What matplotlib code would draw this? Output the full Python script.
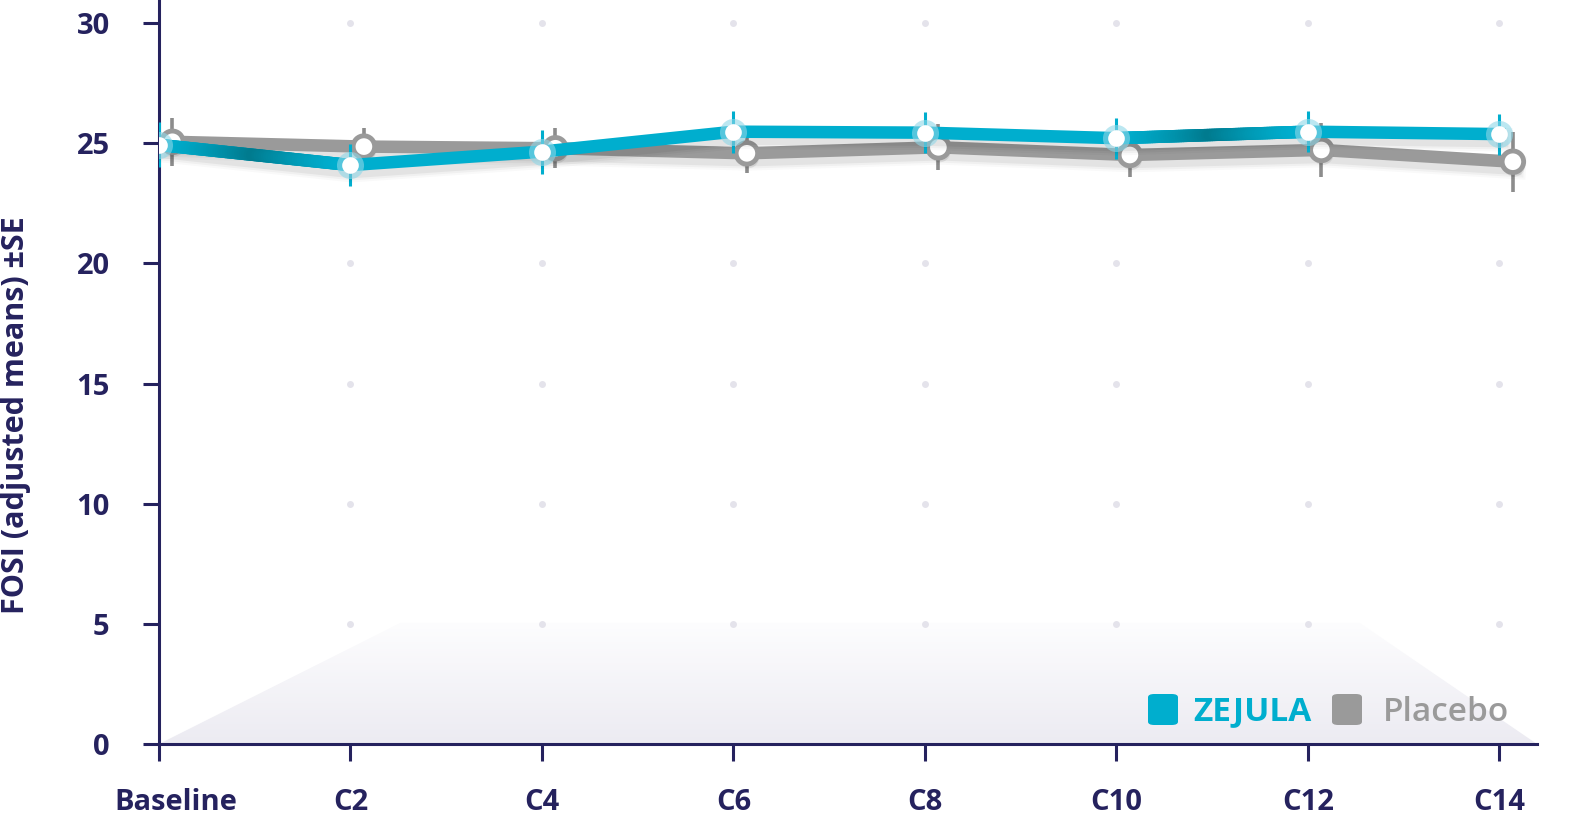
import numpy as np
import matplotlib
matplotlib.use('Agg')
from matplotlib import pyplot as plt
from matplotlib.collections import LineCollection
from matplotlib.patches import Polygon, FancyBboxPatch
from matplotlib.colors import LinearSegmentedColormap, to_rgb
from matplotlib.transforms import ScaledTranslation
import matplotlib.patheffects as pe

# datos
ciclos = ['Baseline', 'C2', 'C4', 'C6', 'C8', 'C10', 'C12', 'C14']
zejula = [24.93, 24.09, 24.65, 25.48, 25.44, 25.21, 25.48, 25.38]
zejula_se = [0.94, 0.87, 0.92, 0.87, 0.85, 0.85, 0.85, 0.85]
placebo = [25.06, 24.86, 24.79, 24.58, 24.83, 24.51, 24.72, 24.23]
placebo_se = [1.00, 0.78, 0.83, 0.83, 0.96, 0.92, 1.12, 1.25]
yticks = [0, 5, 10, 15, 20, 25, 30]

NAVY = '#25225E'
CYAN = '#00AECE'
CYAN_DARK = '#007A8E'
GRIS = '#9A9A9A'

plt.rcParams['font.family'] = ['Open Sans', 'DejaVu Sans']

W, H = 1584, 821
fig = plt.figure(figsize=(W / 100, H / 100), dpi=100)
ax = fig.add_axes([159 / W, 77 / H, 1378 / W, 744 / H])
x = np.arange(len(ciclos))
ax.set_xlim(0, 7.196)
ax.set_ylim(0, 30.96)

# fondo degradado (trapecio)
trap = Polygon([(0, 0), (1.26, 5.04), (6.27, 5.04), (7.196, 0)], closed=True,
               facecolor='none', edgecolor='none', transform=ax.transData)
ax.add_patch(trap)
grad = np.linspace(0, 1, 256).reshape(-1, 1)
cmap_fondo = LinearSegmentedColormap.from_list('fondo', ['#ECEBF2', '#FDFDFE'])
im = ax.imshow(grad, extent=[0, 7.196, 0, 5.04], origin='lower', cmap=cmap_fondo,
               aspect='auto', zorder=0)
im.set_clip_path(trap)

# rejilla de puntos
for xi in x[1:]:
    for yi in yticks[1:]:
        ax.plot(xi, yi, 'o', color='#E4E3EB', ms=5, mec='none', zorder=1)

dx = 0.07  # desplazamiento de placebo


def sombra():
    efs = []
    for lw, a in [(17, 0.025), (14, 0.035), (11, 0.05)]:
        efs.append(pe.Stroke(linewidth=lw, foreground='black', alpha=a, offset=(1, -4)))
    efs.append(pe.Normal())
    return efs


def linea_degradado(xs, ys, oscuros, zo):
    segs = []
    cols = []
    c1 = np.array(to_rgb(CYAN))
    c2 = np.array(to_rgb(CYAN_DARK))
    for i in range(len(xs) - 1):
        if i not in oscuros:
            continue
        n = 80
        t = np.linspace(0, 1, n + 1)
        px = xs[i] + (xs[i + 1] - xs[i]) * t
        py = ys[i] + (ys[i + 1] - ys[i]) * t
        for k in range(n):
            segs.append([(px[k], py[k]), (px[k + 1], py[k + 1])])
            tm = (t[k] + t[k + 1]) / 2
            w = max(0, 1 - abs(tm - 0.5) / 0.45) ** 1.3
            cols.append(c1 * (1 - w) + c2 * w)
    lc = LineCollection(segs, colors=cols, linewidths=9, capstyle='round', zorder=zo)
    ax.add_collection(lc)


# placebo
xp = x + dx
ax.errorbar(xp, placebo, yerr=placebo_se, fmt='none', ecolor='#8C8C8C', elinewidth=2.6,
            capsize=0, zorder=3)
ax.plot(xp, placebo, color=GRIS, lw=9, solid_joinstyle='round', zorder=4, path_effects=sombra())
ax.plot(xp, placebo, 'o', ms=15.5, mfc='white', mec=GRIS, mew=3.5, zorder=5,
        path_effects=[pe.SimplePatchShadow(offset=(1, -3), alpha=0.12), pe.Normal()])

# zejula
ax.errorbar(x, zejula, yerr=zejula_se, fmt='none', ecolor=CYAN, elinewidth=2.2,
            capsize=0, zorder=6)
ax.plot(x, zejula, color=CYAN, lw=9, solid_joinstyle='round', zorder=6, path_effects=sombra())
linea_degradado(x, zejula, [0, 5], 7)
ax.plot(x, zejula, 'o', ms=19.5, mfc='#8ED7E8', mec='none', alpha=0.6, zorder=8)
ax.plot(x, zejula, 'o', ms=12, mfc='white', mec='none', zorder=9)

# ejes
for s in ['top', 'right']:
    ax.spines[s].set_visible(False)
for s in ['left', 'bottom']:
    ax.spines[s].set_color(NAVY)
    ax.spines[s].set_linewidth(2.2)
ax.set_xticks(x)
ax.set_xticklabels(ciclos)
ax.set_yticks(yticks)
ax.tick_params(axis='both', colors=NAVY, width=2.2, labelsize=21)
ax.tick_params(axis='y', length=11.5, pad=24)
ax.tick_params(axis='x', length=12, pad=20)
for lab in ax.get_xticklabels() + ax.get_yticklabels():
    lab.set_fontweight('bold')
    lab.set_color(NAVY)
# "Baseline" corrido a la derecha como en el original
primera = ax.get_xticklabels()[0]
primera.set_transform(primera.get_transform() + ScaledTranslation(17 / 100, 0, fig.dpi_scale_trans))

fig.text(16 / W, 1 - 415 / H, 'FOSI (adjusted means) ±SE', rotation=90,
         ha='center', va='center', fontsize=22, fontweight='bold', color=NAVY)

# leyenda
for xl, col, txt, tx, peso in [(1148, CYAN, 'ZEJULA', 1193, 'bold'),
                               (1332, GRIS, 'Placebo', 1383, 'semibold')]:
    caja = FancyBboxPatch((xl / W, 1 - 725 / H), 30 / W, 31 / H,
                          boxstyle='round,pad=0,rounding_size=0.004', transform=fig.transFigure,
                          facecolor=col, edgecolor='none', zorder=10)
    fig.patches.append(caja)
    fig.text(tx / W, 1 - 712 / H, txt, ha='left', va='center', fontsize=24,
             fontweight=peso, color=col)

plt.savefig('out.png', dpi=100)
